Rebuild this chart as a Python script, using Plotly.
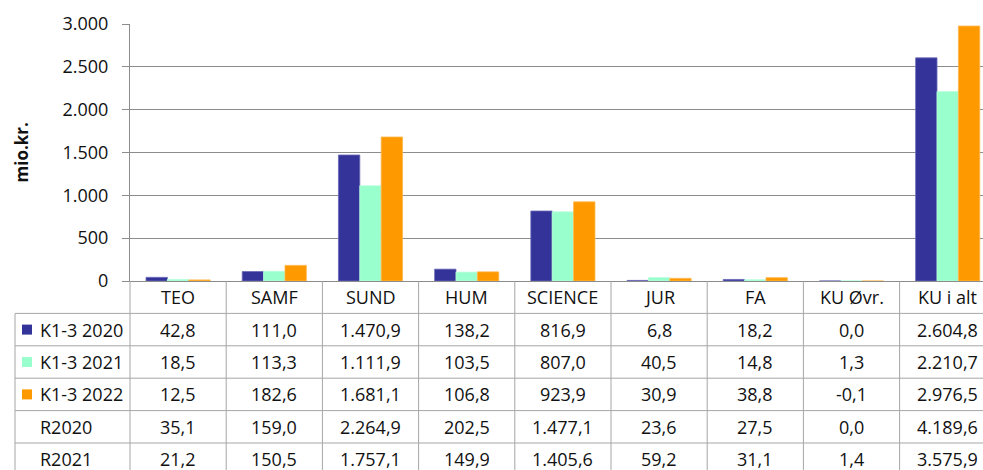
import plotly.graph_objects as go

categories = ["TEO", "SAMF", "SUND", "HUM", "SCIENCE", "JUR", "FA", "KU Øvr.", "KU i alt"]

k13_2020 = [42.8, 111.0, 1470.9, 138.2, 816.9, 6.8, 18.2, 0.0, 2604.8]
k13_2021 = [18.5, 113.3, 1111.9, 103.5, 807.0, 40.5, 14.8, 1.3, 2210.7]
k13_2022 = [12.5, 182.6, 1681.1, 106.8, 923.9, 30.9, 38.8, -0.1, 2976.5]
r2020 = [35.1, 159.0, 2264.9, 202.5, 1477.1, 23.6, 27.5, 0.0, 4189.6]
r2021 = [21.2, 150.5, 1757.1, 149.9, 1405.6, 59.2, 31.1, 1.4, 3575.9]

series_names = ["K1-3 2020", "K1-3 2021", "K1-3 2022", "R2020", "R2021"]
series_values = [k13_2020, k13_2021, k13_2022, r2020, r2021]
bar_series = 3  # first three series drawn as bars
colors = ["#333399", "#99FFCC", "#FF9900"]
edge_colors = ["#6a6ab8", "#b8ffdc", "#ffb84d"]

y_ticks = [0, 500, 1000, 1500, 2000, 2500, 3000]

W, H = 983, 470
ML, MR, MT, MB = 130, 0, 24, 189
PW = W - ML - MR
PH = H - MT - MB
CAT_PX = 96.2
FONT = "Open Sans, Liberation Sans, sans-serif"
FS = 18
LINE = "#8c8c8c"
TLINE = "#a6a6a6"


def px_x(px):
    return (px - ML) / PW


def px_y(py):
    return (MT + PH - py) / PH


def fmt(v):
    s = f"{abs(v):,.1f}"
    s = s.replace(",", "X").replace(".", ",").replace("X", ".")
    return ("-" if v < 0 else "") + s


fig = go.Figure()
for i in range(bar_series):
    fig.add_trace(go.Bar(
        x=list(range(len(categories))), y=series_values[i], name=series_names[i],
        marker=dict(color=colors[i], line=dict(color=edge_colors[i], width=0.8)),
        showlegend=False,
    ))

shapes = []
annotations = []

# table geometry
top_px = MT + PH
row_h = 32.4
n_rows = 1 + len(series_names)
row_edges = [top_px + row_h * k for k in range(n_rows + 1)]
left_px = 15

# horizontal lines (below header)
for k in range(1, n_rows + 1):
    shapes.append(dict(type="line", xref="paper", yref="paper",
                       x0=px_x(left_px), x1=1.02, y0=px_y(row_edges[k]), y1=px_y(row_edges[k]),
                       line=dict(color=TLINE, width=1)))
# left border
shapes.append(dict(type="line", xref="paper", yref="paper",
                   x0=px_x(left_px), x1=px_x(left_px), y0=px_y(row_edges[1]), y1=px_y(H + 10),
                   line=dict(color=TLINE, width=1)))
# first column boundary (y axis continuation)
shapes.append(dict(type="line", xref="paper", yref="paper",
                   x0=0, x1=0, y0=0, y1=px_y(H + 10),
                   line=dict(color=TLINE, width=1)))
for i in range(1, len(categories) + 1):
    shapes.append(dict(type="line", xref="x", yref="paper",
                       x0=i - 0.5, x1=i - 0.5, y0=0, y1=px_y(H + 10),
                       line=dict(color=TLINE, width=1)))

# header labels
hdr_y = px_y((row_edges[0] + row_edges[1]) / 2)
for i, c in enumerate(categories):
    annotations.append(dict(x=i, y=hdr_y, xref="x", yref="paper", text=c, showarrow=False,
                            xanchor="center", yanchor="middle",
                            font=dict(family=FONT, size=FS, color="#111111")))

# rows
for r, (name, vals) in enumerate(zip(series_names, series_values)):
    cy = px_y((row_edges[r + 1] + row_edges[r + 2]) / 2)
    annotations.append(dict(x=px_x(38), y=cy, xref="paper", yref="paper", text=name,
                            showarrow=False, xanchor="left", yanchor="middle",
                            font=dict(family=FONT, size=FS, color="#111111")))
    if r < bar_series:
        cyp = (row_edges[r + 1] + row_edges[r + 2]) / 2
        shapes.append(dict(type="rect", xref="paper", yref="paper",
                           x0=px_x(22), x1=px_x(32), y0=px_y(cyp - 5), y1=px_y(cyp + 5),
                           fillcolor=colors[r], line=dict(width=0)))
    for i, v in enumerate(vals):
        annotations.append(dict(x=i, y=cy, xref="x", yref="paper", text=fmt(v),
                                showarrow=False, xanchor="center", yanchor="middle",
                                font=dict(family=FONT, size=FS, color="#111111")))

# y axis title
annotations.append(dict(x=px_x(21), y=0.5, xref="paper", yref="paper", text="<b>mio.kr.</b>",
                        textangle=-90, showarrow=False, xanchor="center", yanchor="middle",
                        font=dict(family=FONT, size=17, color="#111111")))

fig.update_layout(
    width=W, height=H, autosize=False,
    margin=dict(l=ML, r=MR, t=MT, b=MB, pad=0),
    paper_bgcolor="white", plot_bgcolor="white",
    barmode="group", bargap=1 / 3, bargroupgap=0,
    separators=",.",
    shapes=shapes, annotations=annotations,
    xaxis=dict(type="linear", range=[-0.5, -0.5 + PW / CAT_PX], showticklabels=False, ticks="",
               showgrid=False, zeroline=False, showline=True, linecolor=LINE, linewidth=1.2,
               fixedrange=True),
    yaxis=dict(range=[0, 3000], tickvals=y_ticks, tickformat=",d", showgrid=True,
               gridcolor=LINE, gridwidth=1, zeroline=False, showline=True, linecolor=LINE,
               linewidth=1.2, ticks="outside", ticklen=7, tickcolor=LINE, ticklabelstandoff=10,
               tickfont=dict(family=FONT, size=FS, color="#111111"), fixedrange=True),
)

fig.write_html(
    "out.html",
    config={"displayModeBar": False},
    post_script="document.body.style.margin='0';document.body.style.overflow='hidden';",
)
